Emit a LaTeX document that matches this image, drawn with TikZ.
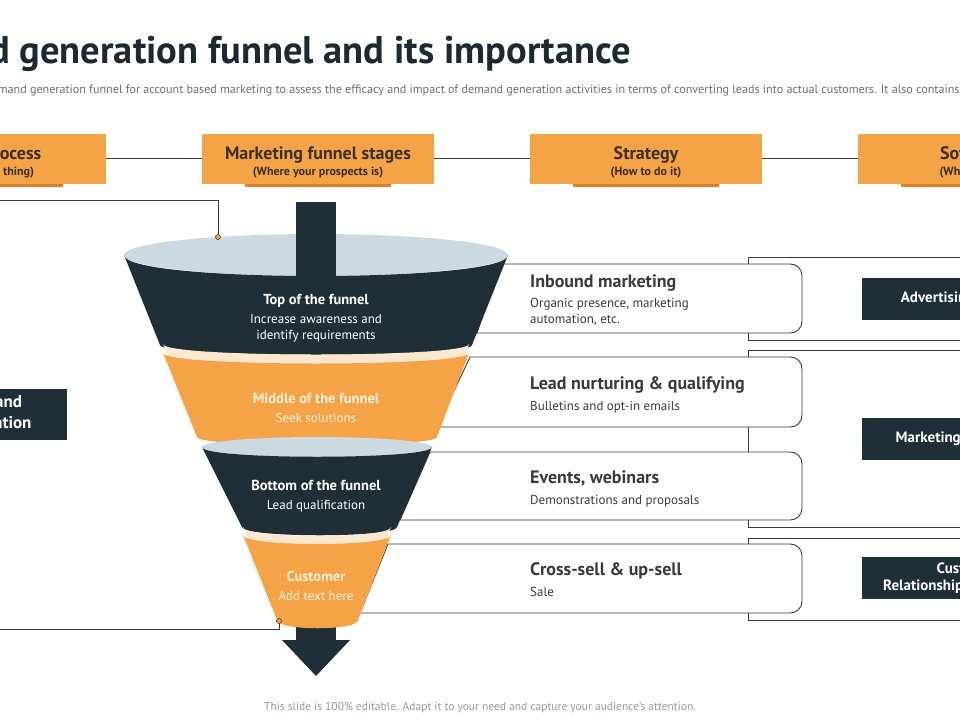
\documentclass[tikz,border=0pt]{standalone}
\usepackage{fontspec}
\setmainfont{PT Sans}
\begin{document}
\begin{tikzpicture}[x=1pt,y=-1pt,
  hdr/.style={fill=orgc,inner sep=0,minimum width=232,minimum height=50,text=hdtx},
  dbox/.style={fill=dk,inner sep=0,text=white,font=\bfseries\fontsize{15}{18}\selectfont,align=center},
  ln/.style={draw=lnc,line width=0.9pt},
  dot/.style={circle,draw=lnc,fill=orgc,inner sep=0,minimum size=5,line width=0.6pt},
  ft/.style={text=white,inner sep=0,font=\bfseries\fontsize{14.5}{17}\selectfont},
  fs/.style={text=white,inner sep=0,font=\fontsize{13}{15}\selectfont},
  rtt/.style={anchor=base west,inner sep=0,text=rtx,font=\bfseries\fontsize{18}{20}\selectfont},
  rts/.style={anchor=base west,inner sep=0,text=rtx,font=\fontsize{13}{15}\selectfont}]
\definecolor{orgc}{HTML}{F5A347}
\definecolor{orgd}{HTML}{E07E22}
\definecolor{dk}{HTML}{1F2E37}
\definecolor{lb}{HTML}{CDD9E0}
\definecolor{cream}{HTML}{FCE7CF}
\definecolor{otx}{HTML}{FFF1DC}
\definecolor{lnc}{HTML}{3A3A3A}
\definecolor{hdtx}{HTML}{3B3024}
\definecolor{rtx}{HTML}{3A3A3A}
\definecolor{grt}{HTML}{6E6E6E}
\useasboundingbox (0,0) rectangle (960,720);
\clip (0,0) rectangle (960,720);
% title
\node[anchor=base east,inner sep=0,text=dk!90!black,font=\bfseries\fontsize{38.5}{42}\selectfont] (title) at (631,63) {Demand generation funnel and its importance};
\node[anchor=base west,inner sep=0,text=grt,font=\fontsize{12.1}{13}\selectfont] (sub) at (-15,93) {demand generation funnel for account based marketing to assess the efficacy and impact of demand generation activities in terms of converting leads into actual customers. It also contains};
% header line
\coordinate (hl) at (0,158); \coordinate (hr) at (960,158);
\draw[ln] (hl) -- (hr);
\foreach \n/\cx/\a/\b in {h1/-10/Sales process/(Doing the thing),h2/318/Marketing funnel stages/(Where your prospects is),h3/646/Strategy/(How to do it),h4/974/Software/(What to use)}{
  \fill[orgd] (\cx-73,183) rectangle (\cx+73,187);
  \node[hdr] (\n) at (\cx,159) {};
  \node[text=hdtx,inner sep=0,anchor=base,font=\bfseries\fontsize{18}{20}\selectfont] at (\cx,159) {\a};
  \node[text=hdtx,inner sep=0,anchor=base,font=\bfseries\fontsize{12}{14}\selectfont] at (\cx,175) {\b};
}
% brackets on right
\draw[ln] (965,257) -- (748,257) -- (748,340) -- (965,340);
\draw[ln] (965,350) -- (748,350) -- (748,527) -- (965,527);
\draw[ln] (965,538) -- (748,538) -- (748,620) -- (965,620);
% right boxes
\foreach \l/\t/\lb/\b in {500/264/477/333, 470/357/437/427, 430/452/400/520, 388/544/360/613}{
  \filldraw[ln,fill=white] (\l,\t) -- (790,\t) .. controls (797,\t) and (802,\t+5) .. (802,\t+12) -- (802,\b-12) .. controls (802,\b-5) and (797,\b) .. (790,\b) -- (\lb,\b) -- cycle;
}
\node[rtt] (r1) at (530,287) {Inbound marketing};
\node[rts] (r1s) at (530,307) {Organic presence, marketing};
\node[rts] (r1t) at (530,323) {automation, etc.};
\node[rtt] (r2) at (530,389) {Lead nurturing \& qualifying};
\node[rts] (r2s) at (530,410) {Bulletins and opt-in emails};
\node[rtt] (r3) at (530,483) {Events, webinars};
\node[rts] (r3s) at (530,504) {Demonstrations and proposals};
\node[rtt] (r4) at (530,575) {Cross-sell \& up-sell};
\node[rts] (r4s) at (530,596) {Sale};
% dark boxes
\node[dbox,minimum width=210,minimum height=42] (d1) at (967,299) {Advertising software};
\node[dbox,minimum width=210,minimum height=42] (d2) at (967,439) {Marketing automation};
\node[dbox,minimum width=210,minimum height=42,font=\bfseries\fontsize{15}{17}\selectfont] (d3) at (967,578) {Customer\\Relationship Management};
\fill[dk] (-100,389) rectangle (67,440);
\node[dbox,font=\bfseries\fontsize{17}{21}\selectfont] (d0) at (-8,414) {Demand\\generation};
% left connectors
\coordinate (c1) at (0,200); \coordinate (c2) at (0,629);
\draw[ln] (c1) -- (218,200) -- (218,237);
\draw[ln] (c2) -- (279,629) -- (279,621);
% funnel
\fill[lb] (316,255) ellipse[x radius=192,y radius=21];
\fill[dk] (296,202) rectangle (336,285);
\fill[dk] (124,255) -- (160,345) .. controls (160,358) and (472,358) .. (472,345) -- (508,255) .. controls (508,283) and (124,283) .. cycle;
\fill[cream] (163,344) -- (197,429) .. controls (197,440) and (437,440) .. (437,429) -- (469,344) .. controls (469,358) and (163,358) .. cycle;
\fill[orgc] (163,353) -- (197,437) .. controls (197,448) and (437,448) .. (437,437) -- (469,353) .. controls (469,367) and (163,367) .. cycle;
\fill[lb] (317,447) ellipse[x radius=115,y radius=10];
\fill[dk] (202,447) -- (242,527) .. controls (242,538) and (397,538) .. (397,527) -- (432,447) .. controls (432,460) and (202,460) .. cycle;
\fill[dk] (296,615) rectangle (336,642);
\fill[dk] (282,640) -- (350,640) -- (316,676) -- cycle;
\fill[cream] (243,527) -- (277,613) .. controls (277,624) and (358,624) .. (358,613) -- (391,527) .. controls (391,539) and (243,539) .. cycle;
\fill[orgc] (243,535) -- (277,620) .. controls (277,631) and (358,631) .. (358,620) -- (391,535) .. controls (391,547) and (243,547) .. cycle;
\node[dot] (p1) at (218,237) {};
\node[dot] (p2) at (279,621) {};
\node[ft,anchor=base] (f1) at (316,304) {Top of the funnel};
\node[fs,anchor=base] (f1a) at (316,323) {Increase awareness and};
\node[fs,anchor=base] (f1b) at (316,339) {identify requirements};
\node[ft,anchor=base,text=otx] (f2) at (316,403) {Middle of the funnel};
\node[fs,anchor=base,text=otx] (f2a) at (316,422) {Seek solutions};
\node[ft,anchor=base] (f3) at (316,490) {Bottom of the funnel};
\node[fs,anchor=base] (f3a) at (316,509) {Lead qualification};
\node[ft,anchor=base,text=otx] (f4) at (316,581) {Customer};
\node[fs,anchor=base,text=otx] (f4a) at (316,600) {Add text here};
% footer
\node[text=lb!40!grt,font=\fontsize{11.5}{12}\selectfont] (foot) at (480,708) {This slide is 100\% editable. Adapt it to your need and capture your audience’s attention.};
\end{tikzpicture}
\end{document}
